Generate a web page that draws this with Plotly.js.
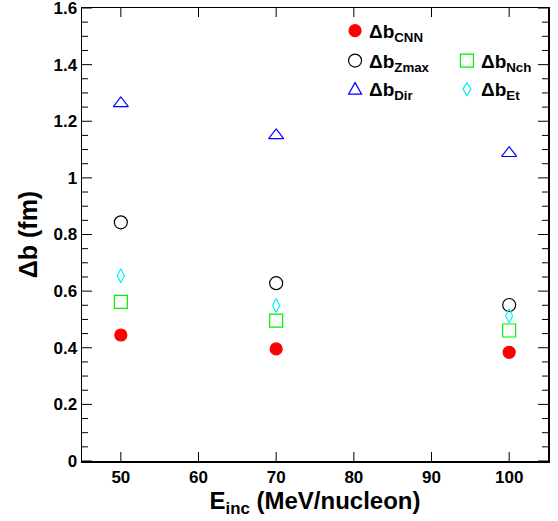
<!DOCTYPE html>
<html><head><meta charset="utf-8">
<script src="https://cdn.plot.ly/plotly-3.0.1.min.js"></script>
<style>body{margin:0;padding:0;background:#fff}#chart{width:558px;height:521px}</style>
</head><body><div id="chart"></div>
<script>
const energies = [50, 70, 100];
const dbCNN  = [0.445, 0.396, 0.384];
const dbZmax = [0.843, 0.628, 0.551];
const dbNch  = [0.562, 0.496, 0.461];
const dbDir  = [1.263, 1.150, 1.087];
const dbEt   = [0.654, 0.549, 0.513];
const xTicks = [50, 60, 70, 80, 90, 100];
const yTicks = [0, 0.2, 0.4, 0.6, 0.8, 1, 1.2, 1.4, 1.6];
const seriesNames = ['CNN', 'Zmax', 'Dir', 'Nch', 'Et'];

const FF = 'Liberation Sans, Arial, sans-serif';
const styles = [
  {y:dbCNN,  symbol:'circle',            color:'#ff0000', size:12},
  {y:dbZmax, symbol:'circle-open',       color:'#000000', size:13},
  {y:dbDir,  symbol:'triangle-up-open',  color:'#0000ff', size:13},
  {y:dbNch,  symbol:'square-open',       color:'#00ee00', size:13},
  {y:dbEt,   symbol:'diamond-tall-open', color:'#00f0ff', size:10}
];
const legendPos = [
  {lx:0.586, ly:0.950, shape:{type:'circle', x0:-6, x1:6, y0:-6, y1:6}, fill:'#ff0000'},
  {lx:0.586, ly:0.884, shape:{type:'circle', x0:-6.5, x1:6.5, y0:-6.5, y1:6.5}},
  {lx:0.586, ly:0.821, shape:{type:'path', path:'M -6.5 -5 L 6.5 -5 L 0 6.5 Z'}},
  {lx:0.826, ly:0.884, shape:{type:'rect', x0:-6.5, x1:6.5, y0:-6.5, y1:6.5}},
  {lx:0.826, ly:0.821, shape:{type:'path', path:'M 0 -6.5 L 4 0 L 0 6.5 L -4 0 Z'}}
];

const traces = [];
const annotations = [];
const shapes = [];
styles.forEach((s, i) => {
  traces.push({x:energies, y:s.y, type:'scatter', mode:'markers', showlegend:false, name:seriesNames[i],
    marker:{symbol:s.symbol, size:s.size, color:s.color, line:{color:s.color, width:1.2}}});
  const L = legendPos[i];
  shapes.push(Object.assign({xref:'paper', yref:'paper', xsizemode:'pixel', ysizemode:'pixel',
    xanchor:L.lx, yanchor:L.ly, line:{color:s.color, width:1.2},
    fillcolor:L.fill || 'rgba(0,0,0,0)'}, L.shape));
  annotations.push({xref:'paper', yref:'paper', x:L.lx+0.026, y:L.ly-0.005, xanchor:'left', yanchor:'middle',
    showarrow:false, text:'Δb<sub>'+seriesNames[i]+'</sub>',
    font:{family:FF, size:19, color:'#000', weight:'bold'}});
});

// Tick marks (inside, mirrored on all four sides), placed through the axes' own scales
const tickLine = {color:'#000', width:1};
function yTickShape(v, len) {
  shapes.push({type:'line', xref:'paper', yref:'y', xsizemode:'pixel', xanchor:0, x0:0, x1:len, y0:v, y1:v, line:tickLine});
  shapes.push({type:'line', xref:'paper', yref:'y', xsizemode:'pixel', xanchor:1, x0:-len, x1:0, y0:v, y1:v, line:tickLine});
}
function xTickShape(v, len) {
  shapes.push({type:'line', xref:'x', yref:'paper', ysizemode:'pixel', yanchor:0, y0:0, y1:len, x0:v, x1:v, line:tickLine});
  shapes.push({type:'line', xref:'x', yref:'paper', ysizemode:'pixel', yanchor:1, y0:-len, y1:0, x0:v, x1:v, line:tickLine});
}
yTicks.forEach(v => yTickShape(v, 10));
for (let i = 0; i + 1 < yTicks.length; i++) {
  const step = (yTicks[i+1] - yTicks[i]) / 4;
  for (let k = 1; k < 4; k++) yTickShape(yTicks[i] + k * step, 6);
}
xTicks.forEach(v => xTickShape(v, 9));

const tickFont = {family:FF, size:17, color:'#000', weight:'bold'};
const layout = {
  width:558, height:521,
  margin:{l:82, r:10, t:8, b:60},
  showlegend:false,
  xaxis:{range:[45,105], tickvals:xTicks, ticks:'',
    showline:true, linecolor:'#000', linewidth:1.5, mirror:true, showgrid:false, zeroline:false,
    tickfont:tickFont, ticklabeloverflow:'allow',
    title:{text:'E<sub>inc</sub> (MeV/nucleon)', standoff:4,
      font:{family:FF, size:24, color:'#000', weight:'bold'}}},
  yaxis:{range:[0,1.6], tickvals:yTicks, ticks:'',
    showline:true, linecolor:'#000', linewidth:1.5, mirror:true, showgrid:false, zeroline:false,
    tickfont:tickFont, ticklabeloverflow:'allow',
    title:{text:'Δb (fm)', standoff:8,
      font:{family:FF, size:25, color:'#000', weight:'bold'}}},
  shapes:shapes,
  annotations:annotations
};
Plotly.newPlot('chart', traces, layout, {staticPlot:true, displayModeBar:false});
</script></body></html>
